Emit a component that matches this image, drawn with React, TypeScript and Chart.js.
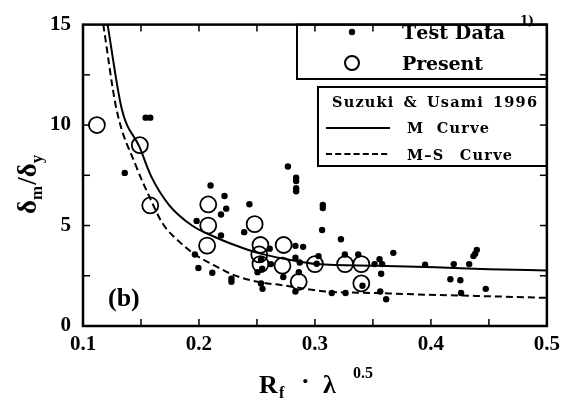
import React, { useEffect, useRef } from 'react';
import { Chart, registerables } from 'chart.js';

Chart.register(...registerables);

// ---- data ----
const testX = [0.136, 0.154, 0.158, 0.198, 0.1965, 0.1995, 0.21, 0.2115, 0.219, 0.2235, 0.222, 0.219, 0.228, 0.228, 0.239, 0.2435, 0.2505, 0.2535, 0.2548, 0.262, 0.261, 0.2545, 0.2535, 0.2727, 0.2767, 0.2838, 0.2838, 0.2838, 0.2838, 0.2832, 0.2898, 0.2832, 0.2869, 0.2861, 0.2832, 0.3068, 0.3068, 0.3062, 0.3224, 0.3031, 0.3015, 0.3258, 0.3373, 0.3145, 0.3264, 0.341, 0.3557, 0.358, 0.3514, 0.3571, 0.3563, 0.3614, 0.3676, 0.395, 0.4197, 0.433, 0.4367, 0.4382, 0.4396, 0.4168, 0.4254, 0.426, 0.4473];
const testY = [7.62, 10.37, 10.37, 5.23, 3.56, 2.89, 6.99, 2.65, 5.55, 5.84, 6.47, 4.51, 2.36, 2.2, 4.67, 6.06, 2.68, 2.12, 1.85, 3.08, 3.85, 2.85, 3.3, 2.44, 7.94, 7.38, 7.22, 6.86, 6.7, 3.99, 3.94, 3.4, 3.16, 2.68, 1.72, 6.03, 5.87, 4.78, 4.32, 3.48, 3.1, 3.56, 3.56, 1.64, 1.64, 2.0, 3.32, 3.08, 3.08, 2.6, 1.72, 1.33, 3.64, 3.05, 3.08, 3.08, 3.48, 3.6, 3.79, 2.33, 2.28, 1.64, 1.85];

const presentX = [0.112, 0.149, 0.158, 0.208, 0.208, 0.207, 0.248, 0.253, 0.252, 0.253, 0.273, 0.272, 0.286, 0.3, 0.326, 0.34, 0.34];
const presentY = [10, 9, 6, 6.05, 5, 4, 5.07, 4.03, 3.56, 3.08, 4.03, 3.0, 2.2, 3.08, 3.08, 3.08, 2.12];

const mCurveX = [0.1212, 0.1334, 0.1488, 0.1587, 0.1741, 0.194, 0.2136, 0.2307, 0.2505, 0.276, 0.3017, 0.353, 0.404, 0.45, 0.5];
const mCurveY = [15, 10.81, 8.9, 7.46, 6.03, 5.0, 4.43, 4.03, 3.64, 3.32, 3.08, 3.0, 2.92, 2.83, 2.76];

const msCurveX = [0.1175, 0.1288, 0.1459, 0.1573, 0.1687, 0.183, 0.1965, 0.2136, 0.2307, 0.2505, 0.2704, 0.31, 0.353, 0.3955, 0.45, 0.5];
const msCurveY = [15, 10.81, 7.94, 6.43, 5.1, 4.2, 3.56, 3.0, 2.52, 2.2, 2.04, 1.72, 1.64, 1.56, 1.48, 1.4];

const xTickLabels = ['0.1', '0.2', '0.3', '0.4', '0.5'];
const yTickLabels = ['0', '5', '10', '15'];
const legendLabels = ['Test Data', 'Present', 'Suzuki & Usami 1996', 'M Curve', 'M\u2013S Curve'];
const panelLabel = '(b)';

const FONT = '"Liberation Serif", "Times New Roman", serif';
const LFONT = '"DejaVu Serif", "Liberation Serif", serif';

function toPts(xs: number[], ys: number[]) {
  return xs.map((x, i) => ({ x, y: ys[i] }));
}

// draws text so that it spans `width`; limited letter spacing, the rest goes to word gaps
function spaced(ctx: CanvasRenderingContext2D, text: string, x: number, y: number, width: number, maxLetter = 1.5) {
  const chars = Array.from(text);
  const ws = chars.map((c) => ctx.measureText(c).width);
  const natural = ws.reduce((a, b) => a + b, 0);
  const n = chars.length;
  const spaces = chars.filter((c) => c === ' ').length;
  const total = width - natural;
  let letter = n > 1 ? total / (n - 1) : 0;
  let spaceExtra = 0;
  if (spaces > 0 && letter > maxLetter) {
    letter = maxLetter;
    spaceExtra = (total - letter * (n - 1)) / spaces;
  }
  let cx = x;
  chars.forEach((c, i) => {
    if (c !== ' ') ctx.fillText(c, cx, y);
    cx += ws[i] + letter + (c === ' ' ? spaceExtra : 0);
  });
}

const decor = {
  id: 'decor',
  beforeDraw(chart: any) {
    const { ctx, width, height } = chart;
    ctx.save();
    ctx.fillStyle = '#fff';
    ctx.fillRect(0, 0, width, height);
    ctx.restore();
  },
  afterDraw(chart: any) {
    const { ctx, chartArea: a, scales } = chart;
    const xs = scales.x;
    const ys = scales.y;
    ctx.save();
    ctx.strokeStyle = '#000';
    ctx.fillStyle = '#000';
    ctx.lineWidth = 1.5;
    const line = (x1: number, y1: number, x2: number, y2: number) => {
      ctx.beginPath();
      ctx.moveTo(x1, y1);
      ctx.lineTo(x2, y2);
      ctx.stroke();
    };
    // inward ticks
    xs.ticks.forEach((t: any) => {
      const px = xs.getPixelForValue(t.value);
      if (px <= a.left + 1 || px >= a.right - 1) return;
      line(px, a.bottom, px, a.bottom - 7);
      line(px, a.top, px, a.top + 7);
    });
    ys.ticks.forEach((t: any) => {
      const py = ys.getPixelForValue(t.value);
      if (py <= a.top + 1 || py >= a.bottom - 1) return;
      line(a.left, py, a.left + 7, py);
      line(a.right, py, a.right - 7, py);
    });
    // frame
    ctx.lineWidth = 2.5;
    ctx.strokeRect(a.left, a.top, a.right - a.left, a.bottom - a.top);

    // legend box 1
    ctx.lineWidth = 2;
    ctx.strokeRect(297, a.top, a.right - 297, 79 - a.top);
    ctx.beginPath();
    ctx.arc(352, 32, 3.2, 0, Math.PI * 2);
    ctx.fill();
    ctx.beginPath();
    ctx.arc(352, 63, 7, 0, Math.PI * 2);
    ctx.stroke();
    ctx.textBaseline = 'alphabetic';
    ctx.textAlign = 'left';
    ctx.font = `bold 19px ${LFONT}`;
    spaced(ctx, legendLabels[0], 402, 39, 103, 1.0);
    spaced(ctx, legendLabels[1], 402, 70, 81, 1.0);
    ctx.font = `bold 12px ${LFONT}`;
    ctx.fillText('1)', 520, 25);

    // legend box 2
    ctx.lineWidth = 2;
    ctx.strokeRect(318, 87, a.right - 318, 166 - 87);
    ctx.font = `bold 14.5px ${LFONT}`;
    spaced(ctx, legendLabels[2], 332, 107, 205, 1.2);
    spaced(ctx, legendLabels[3], 407, 133, 82, 1.2);
    spaced(ctx, legendLabels[4], 407, 159.5, 105, 1.2);
    ctx.lineWidth = 2;
    line(326, 128, 390, 128);
    ctx.setLineDash([6, 3.2]);
    line(326, 154, 390, 154);
    ctx.setLineDash([]);

    // panel label
    ctx.font = `bold 26px ${FONT}`;
    ctx.fillText(panelLabel, 108, 306);

    // x axis title: R_f · λ^0.5
    ctx.font = `bold 26px ${FONT}`;
    ctx.fillText('R', 259, 393);
    ctx.font = `bold 16px ${FONT}`;
    ctx.fillText('f', 279, 398);
    ctx.font = `bold 26px ${FONT}`;
    ctx.fillText('\u00b7', 301, 389);
    ctx.fillText('\u03bb', 323, 393);
    ctx.font = `bold 16px ${FONT}`;
    ctx.fillText('0.5', 353, 378);

    // y axis title: δm/δy (rotated)
    ctx.translate(36, 214);
    ctx.rotate(-Math.PI / 2);
    let cx = 0;
    ctx.font = `bold 27px ${FONT}`;
    ctx.fillText('\u03b4', cx, 0);
    cx += ctx.measureText('\u03b4').width;
    ctx.font = `bold 17px ${FONT}`;
    ctx.fillText('m', cx, 6);
    cx += ctx.measureText('m').width + 1;
    ctx.font = `bold 27px ${FONT}`;
    ctx.fillText('/', cx, 0);
    cx += ctx.measureText('/').width;
    ctx.fillText('\u03b4', cx, 0);
    cx += ctx.measureText('\u03b4').width;
    ctx.font = `bold 17px ${FONT}`;
    ctx.fillText('y', cx, 6);

    ctx.restore();
  },
};

export default function App() {
  const ref = useRef<HTMLCanvasElement | null>(null);

  useEffect(() => {
    if (!ref.current) return;
    const chart = new Chart(ref.current, {
      type: 'scatter',
      data: {
        datasets: [
          {
            label: legendLabels[3],
            data: toPts(mCurveX, mCurveY),
            showLine: true,
            borderColor: '#000',
            borderWidth: 2,
            pointRadius: 0,
            cubicInterpolationMode: 'monotone',
            fill: false,
          } as any,
          {
            label: legendLabels[4],
            data: toPts(msCurveX, msCurveY),
            showLine: true,
            borderColor: '#000',
            borderWidth: 2,
            borderDash: [7, 4],
            pointRadius: 0,
            cubicInterpolationMode: 'monotone',
            fill: false,
          } as any,
          {
            label: legendLabels[0],
            data: toPts(testX, testY),
            pointRadius: 3.2,
            pointBackgroundColor: '#000',
            pointBorderColor: '#000',
            pointBorderWidth: 0,
          },
          {
            label: legendLabels[1],
            data: toPts(presentX, presentY),
            pointRadius: 8,
            pointBackgroundColor: 'rgba(0,0,0,0)',
            pointBorderColor: '#000',
            pointBorderWidth: 1.8,
          },
        ],
      },
      options: {
        responsive: false,
        animation: false,
        devicePixelRatio: 1,
        layout: { padding: { top: 12, right: 13, left: 0, bottom: 0 } },
        plugins: { legend: { display: false }, tooltip: { enabled: false } },
        scales: {
          x: {
            type: 'linear',
            min: 0.1,
            max: 0.5,
            grid: { display: false, drawTicks: false },
            border: { display: false },
            ticks: {
              stepSize: 0.05,
              padding: 6,
              maxRotation: 0,
              autoSkip: false,
              color: '#000',
              font: { family: FONT, size: 21, weight: 'bold' },
              callback: (v: any) => {
                const i = xTickLabels.findIndex((l) => Math.abs(parseFloat(l) - Number(v)) < 1e-6);
                return i >= 0 ? xTickLabels[i] : '';
              },
            },
            afterFit: (s: any) => {
              s.height = 75;
            },
          },
          y: {
            type: 'linear',
            min: 0,
            max: 15,
            grid: { display: false, drawTicks: false },
            border: { display: false },
            ticks: {
              stepSize: 2.5,
              padding: 12,
              autoSkip: false,
              color: '#000',
              font: { family: FONT, size: 21, weight: 'bold' },
              callback: (v: any) => {
                const i = yTickLabels.findIndex((l) => Math.abs(parseFloat(l) - Number(v)) < 1e-6);
                return i >= 0 ? yTickLabels[i] : '';
              },
            },
            afterFit: (s: any) => {
              s.width = 83;
            },
          },
        },
      } as any,
      plugins: [decor],
    });
    return () => chart.destroy();
  }, []);

  return (
    <div style={{ position: 'absolute', left: 0, top: 0, width: 566, height: 401, background: '#fff' }}>
      <canvas ref={ref} width={566} height={401} style={{ display: 'block' }} />
    </div>
  );
}
